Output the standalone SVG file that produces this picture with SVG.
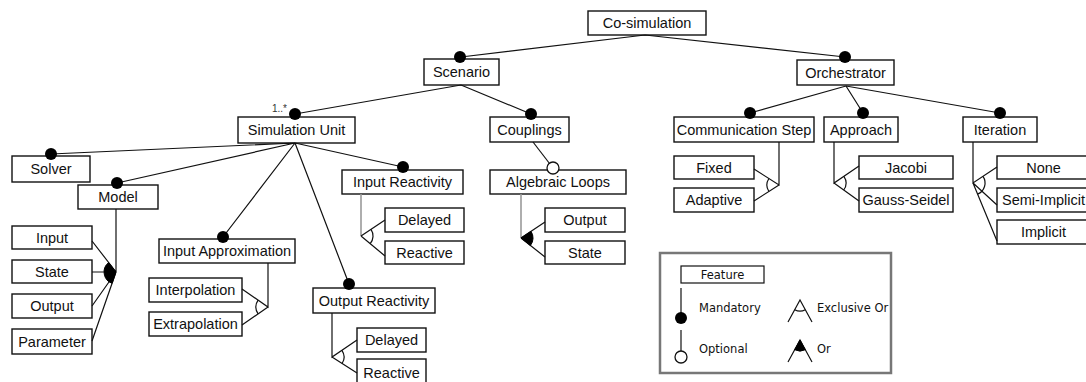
<svg xmlns="http://www.w3.org/2000/svg" width="1086" height="382" viewBox="0 0 1086 382">
<style>
.box{fill:#fff;stroke:#111;stroke-width:1.4}
.t{font-family:"Liberation Sans",Arial,sans-serif;font-size:14.5px;fill:#111;text-anchor:middle}
.ln{stroke:#111;stroke-width:1.2;fill:none}
.gl{stroke:#9a9a9a;stroke-width:1.6;fill:none}
.dot{fill:#000}
.opt{fill:#fff;stroke:#111;stroke-width:1.3}
.fill{fill:#000;stroke:#000;stroke-width:1}
.lt{font-family:"DejaVu Sans",Verdana,sans-serif;font-size:11.5px;fill:#111}
</style>
<rect width="1086" height="382" fill="#fff"/>
<g id="n-cosim"><rect class="box" x="588" y="11" width="118" height="24"/><text class="t" x="647" y="28">Co-simulation</text></g>
<g id="n-scenario"><rect class="box" x="424" y="59" width="75" height="26"/><text class="t" x="461.5" y="77">Scenario</text></g>
<g id="n-orchestrator"><rect class="box" x="797" y="60" width="97" height="25"/><text class="t" x="845.5" y="77.5">Orchestrator</text></g>
<g id="n-simunit"><rect class="box" x="238" y="117" width="117" height="26"/><text class="t" x="296.5" y="135">Simulation Unit</text><text x="272" y="112" style="font-family:'Liberation Sans',Arial,sans-serif;font-size:10px;fill:#333">1..*</text></g>
<g id="n-couplings"><rect class="box" x="490" y="117" width="79" height="25"/><text class="t" x="529.5" y="134.5">Couplings</text></g>
<g id="n-commstep"><rect class="box" x="674" y="117" width="140" height="25"/><text class="t" x="744" y="134.5">Communication Step</text></g>
<g id="n-approach"><rect class="box" x="824" y="117" width="74" height="25"/><text class="t" x="861" y="134.5">Approach</text></g>
<g id="n-iteration"><rect class="box" x="963" y="117" width="74" height="25"/><text class="t" x="1000" y="134.5">Iteration</text></g>
<g id="n-solver"><rect class="box" x="12" y="156" width="78" height="26"/><text class="t" x="51" y="174">Solver</text></g>
<g id="n-model"><rect class="box" x="78" y="185" width="80" height="24"/><text class="t" x="118" y="202">Model</text></g>
<g id="n-inputreact"><rect class="box" x="342" y="170" width="121" height="24"/><text class="t" x="402.5" y="187">Input Reactivity</text></g>
<g id="n-algloops"><rect class="box" x="490" y="170" width="136" height="24"/><text class="t" x="558" y="187">Algebraic Loops</text></g>
<g id="n-fixed"><rect class="box" x="674" y="156" width="80" height="23"/><text class="t" x="714" y="172.5">Fixed</text></g>
<g id="n-adaptive"><rect class="box" x="674" y="188" width="80" height="24"/><text class="t" x="714" y="205">Adaptive</text></g>
<g id="n-jacobi"><rect class="box" x="859" y="156" width="94" height="23"/><text class="t" x="906" y="172.5">Jacobi</text></g>
<g id="n-gauss"><rect class="box" x="859" y="188" width="94" height="24"/><text class="t" x="906" y="205">Gauss-Seidel</text></g>
<g id="n-none"><rect class="box" x="997" y="156" width="94" height="23"/><text class="t" x="1043.5" y="172.5">None</text></g>
<g id="n-semiimplicit"><rect class="box" x="997" y="188" width="94" height="24"/><text class="t" x="1043.5" y="205">Semi-Implicit</text></g>
<g id="n-implicit"><rect class="box" x="997" y="220" width="94" height="24"/><text class="t" x="1043.5" y="237">Implicit</text></g>
<g id="n-ir-delayed"><rect class="box" x="385" y="208" width="79" height="24"/><text class="t" x="424.5" y="225">Delayed</text></g>
<g id="n-ir-reactive"><rect class="box" x="385" y="241" width="79" height="23"/><text class="t" x="424.5" y="257.5">Reactive</text></g>
<g id="n-al-output"><rect class="box" x="545" y="208" width="80" height="24"/><text class="t" x="585" y="225">Output</text></g>
<g id="n-al-state"><rect class="box" x="545" y="241" width="80" height="23"/><text class="t" x="585" y="257.5">State</text></g>
<g id="n-inputapprox"><rect class="box" x="159" y="239" width="136" height="24"/><text class="t" x="227" y="256">Input Approximation</text></g>
<g id="n-interp"><rect class="box" x="149" y="278" width="93" height="24"/><text class="t" x="195.5" y="295">Interpolation</text></g>
<g id="n-extrap"><rect class="box" x="149" y="312" width="93" height="24"/><text class="t" x="195.5" y="329">Extrapolation</text></g>
<g id="n-m-input"><rect class="box" x="12" y="226" width="80" height="23"/><text class="t" x="52" y="242.5">Input</text></g>
<g id="n-m-state"><rect class="box" x="12" y="260" width="80" height="23"/><text class="t" x="52" y="276.5">State</text></g>
<g id="n-m-output"><rect class="box" x="12" y="294" width="80" height="24"/><text class="t" x="52" y="311">Output</text></g>
<g id="n-m-param"><rect class="box" x="12" y="329" width="80" height="25"/><text class="t" x="52" y="346.5">Parameter</text></g>
<g id="n-outputreact"><rect class="box" x="313" y="288" width="122" height="25"/><text class="t" x="374" y="305.5">Output Reactivity</text></g>
<g id="n-or-delayed"><rect class="box" x="357" y="328" width="69" height="24"/><text class="t" x="391.5" y="345">Delayed</text></g>
<g id="n-or-reactive"><rect class="box" x="357" y="359" width="69" height="30"/><text class="t" x="391.5" y="378">Reactive</text></g>
<g id="connectors">
<path class="ln" d="M645,35 L461,57 M645,35 L845,57"/>
<path class="ln" d="M461,85 L295,114 M461,85 L531,114"/>
<path class="ln" d="M846,86 L750,113 M846,86 L863,113 M846,86 L1000,113"/>
<path class="ln" d="M295,143 L51,154 M295,143 L117,183 M295,143 L223,237 M295,143 L349,284 M295,143 L403,167"/>
<path class="ln" d="M533,142 L553,168"/>
<path class="ln" d="M116,209 L116,272 M116,272 L92,241 M116,272 L92,272 M116,272 L92,306 M116,272 L92,341"/>
<path class="fill" d="M116,272 L108.7,262.5 A12,12 0 0 0 112.1,283.3 Z"/>
<path class="ln" d="M268,263 L268,307 L242,289 M268,307 L242,325"/>
<path class="ln" d="M258.1,300.2 A12,12 0 0 0 258.1,313.8"/>
<path class="gl" d="M361,194 L361,236"/>
<path class="ln" d="M361,236 L385,220 M361,236 L385,256"/>
<path class="ln" d="M371,229.3 A12,12 0 0 1 370.2,243.7"/>
<path class="ln" d="M332,313 L332,357 L357,340 M332,357 L357,373"/>
<path class="ln" d="M341.9,350.3 A12,12 0 0 1 342.1,363.5"/>
<path class="gl" d="M521,194 L521,238"/>
<path class="ln" d="M521,238 L545,222 M521,238 L545,257"/>
<path class="fill" d="M521,238 L531,231.3 A12,12 0 0 1 530.4,245.5 Z"/>
<path class="ln" d="M779,142 L779,185 L754,169 M779,185 L754,201"/>
<path class="ln" d="M768.9,178.5 A12,12 0 0 0 768.9,191.5"/>
<path class="ln" d="M834,142 L834,183 L859,166 M834,183 L859,201"/>
<path class="ln" d="M843.9,176.3 A12,12 0 0 1 843.7,190"/>
<path class="ln" d="M973,142 L973,183 L997,167 M973,183 L997,205 M973,183 L997,241"/>
<path class="ln" d="M983,176.3 A12,12 0 0 1 977.6,194.1"/>
<circle class="dot" cx="460" cy="57" r="6"/>
<circle class="dot" cx="845" cy="57" r="6"/>
<circle class="dot" cx="295" cy="114" r="6"/>
<circle class="dot" cx="531" cy="114" r="6"/>
<circle class="dot" cx="750" cy="113" r="6"/>
<circle class="dot" cx="863" cy="113" r="6"/>
<circle class="dot" cx="1000" cy="113" r="6"/>
<circle class="dot" cx="51" cy="154" r="6"/>
<circle class="dot" cx="117" cy="183" r="6"/>
<circle class="dot" cx="403" cy="167" r="6"/>
<circle class="dot" cx="223" cy="237" r="6"/>
<circle class="dot" cx="349" cy="284" r="6"/>
<circle class="opt" cx="553" cy="168" r="6"/>
</g>
<g id="legend">
<rect x="660" y="253" width="231" height="120" fill="#fff" stroke="#777" stroke-width="2.5"/>
<rect x="681" y="266" width="83" height="17" fill="#fff" stroke="#111" stroke-width="1.2"/>
<text class="lt" x="722.5" y="279" text-anchor="middle">Feature</text>
<line class="ln" x1="681" y1="288" x2="681" y2="313"/>
<circle class="dot" cx="681" cy="318" r="6"/>
<text class="lt" x="699" y="312">Mandatory</text>
<line class="ln" x1="681" y1="330" x2="681" y2="351"/>
<circle class="opt" cx="681" cy="357" r="6"/>
<text class="lt" x="699" y="353">Optional</text>
<path class="ln" d="M788,322 L800,300 L812,322"/>
<path class="ln" d="M794.7,309.7 A11,11 0 0 0 805.3,309.7"/>
<text class="lt" x="817" y="312">Exclusive Or</text>
<path class="ln" d="M788,362 L800,340 L812,362"/>
<path class="fill" d="M800,340 L794.7,349.7 A11,11 0 0 0 805.3,349.7 Z"/>
<text class="lt" x="817" y="353">Or</text>
</g>
</svg>
